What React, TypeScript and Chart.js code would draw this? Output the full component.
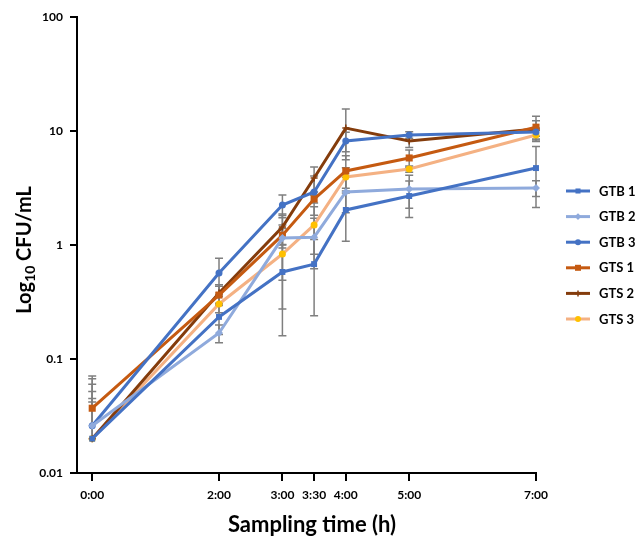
import React, { useEffect, useRef } from 'react';
import { Chart, registerables } from 'chart.js';

Chart.register(...registerables);

// ---- data ----
const sampleHours = [0, 2, 3, 3.5, 4, 5, 7];
const xTickLabels = ['0:00', '2:00', '3:00', '3:30', '4:00', '5:00', '7:00'];
const yTickValues = [0.01, 0.1, 1, 10, 100];
const yTickLabels = ['0.01', '0.1', '1', '10', '100'];
const seriesNames = ['GTB 1', 'GTB 2', 'GTB 3', 'GTS 1', 'GTS 2', 'GTS 3'];

const gtb1 = [0.02, 0.234, 0.58, 0.68, 2.03, 2.69, 4.73];
const gtb2 = [0.026, 0.169, 1.15, 1.17, 2.92, 3.1, 3.16];
const gtb3 = [0.026, 0.567, 2.24, 2.92, 8.17, 9.23, 9.8];
const gts1 = [0.037, 0.364, 1.22, 2.53, 4.46, 5.8, 10.8];
const gts2 = [0.02, 0.379, 1.44, 3.87, 10.6, 8.17, 10.4];
const gts3 = [0.02, 0.304, 0.834, 1.5, 3.95, 4.64, 9.23];

const gtb1Err = [0.047, 0.07, 0.42, 0.44, 0.95, 0.95, 2.6];
const gtb2Err = [0.026, 0.03, 0.66, 0.55, 1.0, 1.0, 0.5];
const gtb3Err = [0.034, 0.2, 0.51, 1.1, 1.6, 0.6, 0.8];
const gts1Err = [0.034, 0.07, 0.28, 0.2, 1.6, 1.0, 2.7];
const gts2Err = [0.025, 0.07, 0.43, 0.96, 5.0, 1.0, 1.9];
const gts3Err = [0.022, 0.05, 0.56, 0.67, 0.8, 0.3, 0.9];

const seriesValues = [gtb1, gtb2, gtb3, gts1, gts2, gts3];
const seriesErrors = [gtb1Err, gtb2Err, gtb3Err, gts1Err, gts2Err, gts3Err];

// ---- styles ----
const lineColors = ['#4472C4', '#8FAADC', '#4472C4', '#C55A11', '#843C0C', '#F4B183'];
const markerColors = ['#4472C4', '#8FAADC', '#4472C4', '#C55A11', '#843C0C', '#FFC000'];
const markerStyles = ['rect', 'rectRot', 'circle', 'rect', 'cross', 'circle'];
const markerRadii = [4.2, 4, 3.5, 5, 3.5, 3.5];

const FONT = 'Lato, "Open Sans", sans-serif';

function drawMarker(ctx: CanvasRenderingContext2D, style: string, x: number, y: number, r: number, color: string) {
  ctx.save();
  ctx.fillStyle = color;
  ctx.strokeStyle = color;
  ctx.lineWidth = 1.5;
  ctx.beginPath();
  if (style === 'rect') {
    const s = r * Math.SQRT1_2;
    ctx.rect(x - s, y - s, 2 * s, 2 * s);
    ctx.fill();
  } else if (style === 'rectRot') {
    ctx.moveTo(x, y - r);
    ctx.lineTo(x + r, y);
    ctx.lineTo(x, y + r);
    ctx.lineTo(x - r, y);
    ctx.closePath();
    ctx.fill();
  } else if (style === 'cross') {
    ctx.moveTo(x, y - r);
    ctx.lineTo(x, y + r);
    ctx.moveTo(x - r, y);
    ctx.lineTo(x + r, y);
    ctx.stroke();
  } else {
    ctx.arc(x, y, r, 0, Math.PI * 2);
    ctx.fill();
  }
  ctx.restore();
}

const errorBarPlugin = {
  id: 'errorBars',
  beforeDatasetsDraw(chart: any) {
    const { ctx } = chart;
    const x = chart.scales.x;
    const y = chart.scales.y;
    ctx.save();
    ctx.strokeStyle = '#7F7F7F';
    ctx.lineWidth = 1.5;
    chart.data.datasets.forEach((ds: any) => {
      ds.data.forEach((p: any, i: number) => {
        const e = ds.errors[i];
        const px = x.getPixelForValue(p.x);
        const top = y.getPixelForValue(p.y + e);
        const low = p.y - e;
        const hasLow = low > y.min;
        const bottom = hasLow ? y.getPixelForValue(low) : y.getPixelForValue(p.y);
        ctx.beginPath();
        ctx.moveTo(px, top);
        ctx.lineTo(px, bottom);
        ctx.moveTo(px - 4, top);
        ctx.lineTo(px + 4, top);
        if (hasLow) {
          ctx.moveTo(px - 4, bottom);
          ctx.lineTo(px + 4, bottom);
        }
        ctx.stroke();
      });
    });
    ctx.restore();
  },
};

const legendPlugin = {
  id: 'customLegend',
  afterDraw(chart: any) {
    const { ctx } = chart;
    ctx.save();
    chart.data.datasets.forEach((ds: any, i: number) => {
      const yy = 191 + i * 25.6;
      ctx.strokeStyle = ds.borderColor;
      ctx.lineWidth = 3;
      ctx.beginPath();
      ctx.moveTo(566, yy);
      ctx.lineTo(590, yy);
      ctx.stroke();
      drawMarker(ctx, markerStyles[i], 578, yy, markerRadii[i] * 0.85, markerColors[i]);
      ctx.fillStyle = '#000';
      ctx.font = `bold 13px ${FONT}`;
      ctx.textAlign = 'left';
      ctx.textBaseline = 'middle';
      ctx.fillText(ds.label, 599, yy + 0.5);
    });
    ctx.restore();
  },
};

const titlePlugin = {
  id: 'axisTitles',
  afterDraw(chart: any) {
    const { ctx } = chart;
    ctx.save();
    ctx.fillStyle = '#000';
    ctx.textBaseline = 'middle';
    // x title
    ctx.font = `bold 22px ${FONT}`;
    ctx.textAlign = 'center';
    ctx.fillText('Sampling time (h)', 312, 525);
    // y title with subscript
    ctx.translate(25, 250);
    ctx.rotate(-Math.PI / 2);
    const big = `bold 20px ${FONT}`;
    const small = `bold 14px ${FONT}`;
    ctx.textAlign = 'left';
    ctx.font = big;
    const w1 = ctx.measureText('Log').width;
    const w3 = ctx.measureText(' CFU/mL').width;
    ctx.font = small;
    const w2 = ctx.measureText('10').width;
    let cx = -(w1 + w2 + w3) / 2;
    ctx.font = big;
    ctx.fillText('Log', cx, 0);
    cx += w1;
    ctx.font = small;
    ctx.fillText('10', cx, 5);
    cx += w2;
    ctx.font = big;
    ctx.fillText(' CFU/mL', cx, 0);
    ctx.restore();
  },
};

export default function App() {
  const ref = useRef<HTMLCanvasElement>(null);
  useEffect(() => {
    if (!ref.current) return;
    Chart.defaults.font.family = FONT;
    const datasets = seriesNames.map((name, i) => ({
      label: name,
      data: sampleHours.map((h, j) => ({ x: h, y: seriesValues[i][j] })),
      errors: seriesErrors[i],
      borderColor: lineColors[i],
      backgroundColor: markerColors[i],
      borderWidth: 3,
      tension: 0,
      pointStyle: markerStyles[i],
      pointRadius: markerRadii[i],
      pointBackgroundColor: markerColors[i],
      pointBorderColor: markerColors[i],
      pointBorderWidth: markerStyles[i] === 'cross' ? 1.5 : 0,
      clip: false,
    }));
    const chart = new Chart(ref.current, {
      type: 'line',
      data: { datasets } as any,
      options: {
        animation: false,
        responsive: false,
        maintainAspectRatio: false,
        layout: { padding: { top: 17, right: 103, left: 0, bottom: 0 } },
        plugins: { legend: { display: false }, tooltip: { enabled: false }, title: { display: false } },
        scales: {
          x: {
            type: 'linear',
            min: -0.24,
            max: 7,
            afterBuildTicks: (s: any) => {
              s.ticks = sampleHours.map((v) => ({ value: v }));
            },
            afterFit: (s: any) => {
              s.height = 64;
            },
            grid: { display: true, drawOnChartArea: false, drawTicks: true, tickLength: 8, tickColor: '#000', lineWidth: 2 },
            border: { display: true, color: '#000', width: 2 },
            ticks: {
              autoSkip: false,
              maxRotation: 0,
              padding: 7,
              color: '#000',
              font: { size: 12, weight: 'bold', family: FONT },
              callback: (v: any) => xTickLabels[sampleHours.indexOf(Number(v))] ?? '',
            },
          },
          y: {
            type: 'logarithmic',
            min: 0.01,
            max: 100,
            afterBuildTicks: (s: any) => {
              s.ticks = yTickValues.map((v) => ({ value: v }));
            },
            afterFit: (s: any) => {
              s.width = 77;
            },
            grid: { display: true, drawOnChartArea: false, drawTicks: true, tickLength: 7, tickColor: '#000', lineWidth: 2 },
            border: { display: true, color: '#000', width: 2 },
            ticks: {
              autoSkip: false,
              padding: 7,
              color: '#000',
              font: { size: 12, weight: 'bold', family: FONT },
              callback: (v: any) => yTickLabels[yTickValues.indexOf(Number(v))] ?? '',
            },
          },
        },
      } as any,
      plugins: [errorBarPlugin, legendPlugin, titlePlugin],
    });
    return () => chart.destroy();
  }, []);
  return (
    <div style={{ position: 'fixed', left: 0, top: 0, width: 639, height: 537, background: '#fff' }}>
      <canvas ref={ref} width={639} height={537} style={{ display: 'block', width: 639, height: 537 }} />
    </div>
  );
}
